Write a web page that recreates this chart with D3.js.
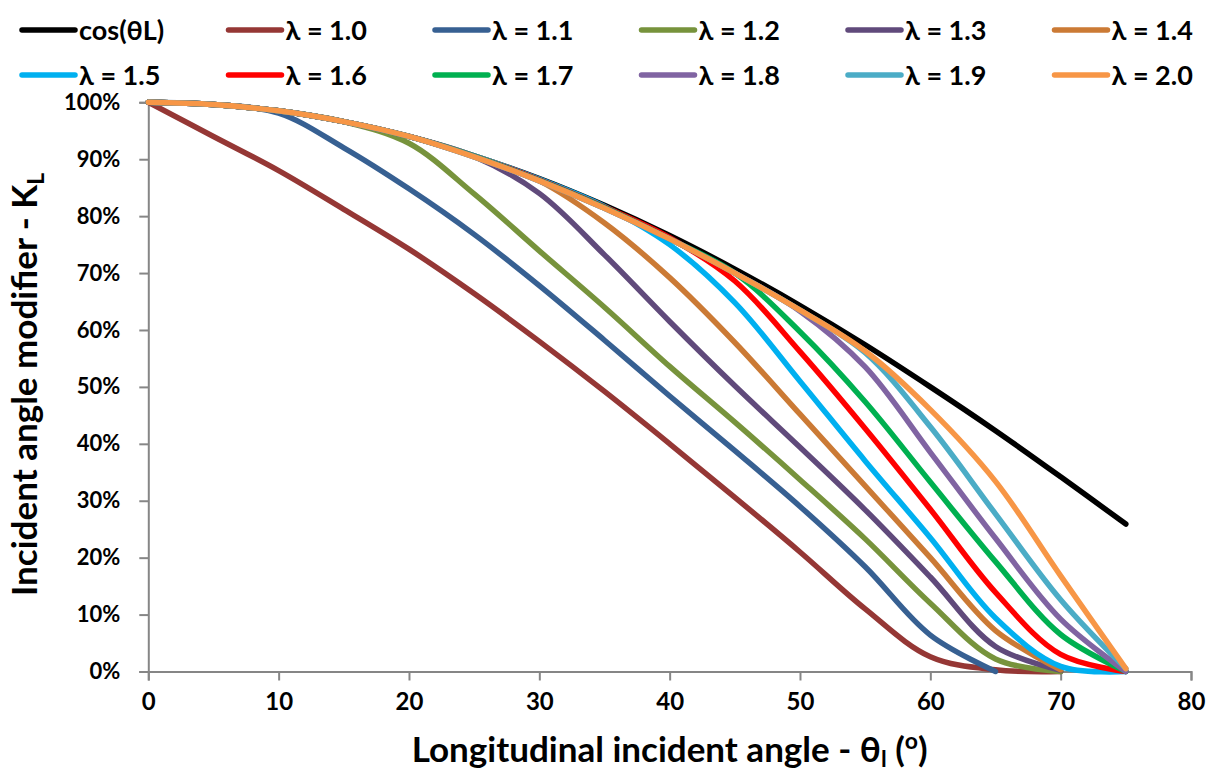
<!DOCTYPE html>
<html>
<head>
<meta charset="utf-8">
<script src="https://cdn.jsdelivr.net/npm/d3@7"></script>
<style>
  html, body { margin: 0; padding: 0; background: #fff; }
  svg { display: block; font-family: "Lato", "Open Sans", sans-serif; font-weight: 700; }
</style>
</head>
<body>
<svg id="chart" width="1221" height="772"></svg>
<script>
// Longitudinal incident angle (degrees) at which each curve is sampled
const theta = [0, 5, 10, 15, 20, 25, 30, 35, 40, 45, 50, 55, 60, 65, 70, 75];

// Reference curve cos(θL), as a fraction
const cosTheta = [1.000, 0.996, 0.985, 0.966, 0.940, 0.906, 0.866, 0.819, 0.766, 0.707, 0.643, 0.574, 0.500, 0.423, 0.342, 0.259];

// Incident angle modifier K_L (%) for each λ
const lam10 = [100, 94.0, 88.0, 81.2, 74.2, 66.4, 58.0, 49.2, 40.0, 30.6, 21.0, 11.0, 2.6, 0.3, 0];
const lam11 = [100, 99.6, 98.1, 92.0, 84.8, 76.8, 67.8, 58.2, 48.4, 38.8, 29.0, 18.4, 6.4, 0];
const lam12 = [100, 99.6, 98.5, 96.6, 92.8, 83.9, 73.9, 64.0, 53.6, 43.8, 33.7, 23.3, 12.0, 2.2, 0];
const lam13 = [100, 99.6, 98.5, 96.6, 94.0, 90.5, 84.0, 73.2, 61.5, 50.2, 39.4, 28.4, 16.6, 4.4, 0.2];
const lam14 = [100, 99.6, 98.5, 96.6, 94.0, 90.6, 86.2, 78.8, 69.2, 57.8, 45.2, 32.6, 20.0, 7.2, 0.3];
const lam15 = [100, 99.6, 98.5, 96.6, 94.0, 90.6, 86.5, 81.7, 75.0, 64.8, 51.0, 37.0, 23.5, 9.4, 0.9, 0];
const lam16 = [100, 99.6, 98.5, 96.6, 94.0, 90.5, 86.4, 81.6, 76.2, 68.6, 56.2, 42.7, 28.5, 13.9, 3.0, 0];
const lam17 = [100, 99.6, 98.5, 96.6, 94.0, 90.5, 86.3, 81.5, 76.0, 70.0, 59.7, 47.4, 33.3, 19.3, 6.5, 0];
const lam18 = [100, 99.6, 98.5, 96.6, 94.0, 90.4, 86.2, 81.4, 76.0, 70.0, 63.3, 53.5, 38.5, 23.4, 9.2, 0];
const lam19 = [100, 99.6, 98.5, 96.6, 94.0, 90.4, 86.2, 81.4, 76.0, 70.0, 63.5, 56.0, 43.0, 27.7, 12.6, 0.5];
const lam20 = [100, 99.6, 98.5, 96.6, 94.0, 90.4, 86.2, 81.4, 76.0, 70.0, 63.5, 56.3, 46.0, 33.4, 16.8, 0.5];

const seriesNames = ["cos(θL)", "λ = 1.0", "λ = 1.1", "λ = 1.2", "λ = 1.3", "λ = 1.4",
                     "λ = 1.5", "λ = 1.6", "λ = 1.7", "λ = 1.8", "λ = 1.9", "λ = 2.0"];
const seriesColors = ["#000000", "#953735", "#376092", "#77933C", "#604A7B", "#CB7A35",
                      "#00B0F0", "#FF0000", "#00B050", "#8064A2", "#4BACC6", "#F79646"];

const xTicks = [0, 10, 20, 30, 40, 50, 60, 70, 80];
const yTicks = [0, 10, 20, 30, 40, 50, 60, 70, 80, 90, 100];

// Assemble series: values in percent
const seriesValues = [cosTheta.map(v => v * 100), lam10, lam11, lam12, lam13, lam14,
                      lam15, lam16, lam17, lam18, lam19, lam20];
const series = seriesNames.map((name, i) => ({
  name,
  color: seriesColors[i],
  points: seriesValues[i].map((v, j) => ({ t: theta[j], v }))
}));

const svg = d3.select("#chart");
const plot = { left: 148.3, right: 1191, top: 102.3, bottom: 671.5 };

const x = d3.scaleLinear().domain([0, 80]).range([plot.left, plot.right]);
const y = d3.scaleLinear().domain([0, 100]).range([plot.bottom, plot.top]);

const axisColor = "#868686";

// Y axis
const yAxis = svg.append("g")
  .attr("transform", `translate(${plot.left},0)`)
  .call(d3.axisLeft(y).tickValues(yTicks).tickSize(9).tickPadding(19).tickFormat(d => d + "%"));
// X axis
const xAxis = svg.append("g")
  .attr("transform", `translate(0,${plot.bottom})`)
  .call(d3.axisBottom(x).tickValues(xTicks).tickSize(9).tickPadding(12).tickFormat(d3.format("d")));

[yAxis, xAxis].forEach(g => {
  g.select(".domain").attr("stroke", axisColor).attr("stroke-width", 2);
  g.selectAll(".tick line").attr("stroke", axisColor).attr("stroke-width", 2);
  g.selectAll(".tick text").attr("fill", "#000")
    .style("font-family", "Lato, 'Open Sans', sans-serif").style("font-weight", 700);
});
yAxis.selectAll(".tick text").style("font-size", "22px");
xAxis.selectAll(".tick text").style("font-size", "24px");

// Smoothed curves through the sampled points
const line = d3.line()
  .x(d => x(d.t))
  .y(d => y(d.v))
  .curve(d3.curveCatmullRom.alpha(0.5));

svg.append("g")
  .selectAll("path")
  .data(series)
  .join("path")
  .attr("d", d => line(d.points))
  .attr("fill", "none")
  .attr("stroke", d => d.color)
  .attr("stroke-width", 5.5)
  .attr("stroke-linecap", "round")
  .attr("stroke-linejoin", "round");

// Legend: two rows of six entries
const legendCols = [22, 228.5, 435, 641.5, 848, 1054.5];
const legendRows = [30, 75];
const legend = svg.append("g")
  .selectAll("g")
  .data(series)
  .join("g")
  .attr("transform", (d, i) => `translate(${legendCols[i % 6]},${legendRows[Math.floor(i / 6)]})`);
legend.append("line")
  .attr("x1", 0).attr("x2", 53)
  .attr("stroke", d => d.color)
  .attr("stroke-width", 5.5)
  .attr("stroke-linecap", "round");
legend.append("text")
  .attr("x", 57)
  .attr("dy", "0.36em")
  .style("font-size", "27px")
  .text(d => d.name);

// Axis titles
const xTitle = svg.append("text")
  .attr("x", (plot.left + plot.right) / 2)
  .attr("y", 762)
  .attr("text-anchor", "middle")
  .style("font-size", "35px");
xTitle.append("tspan").text("Longitudinal incident angle - θ");
xTitle.append("tspan").attr("dy", 5).style("font-size", "23px").text("l");
xTitle.append("tspan").attr("dy", -5).text(" (");
xTitle.append("tspan").attr("dy", -13).style("font-size", "23px").text("o");
xTitle.append("tspan").attr("dy", 13).text(")");

const yTitle = svg.append("text")
  .attr("transform", "translate(37,596) rotate(-90)")
  .attr("text-anchor", "start")
  .style("font-size", "35px");
yTitle.append("tspan").text("Incident angle modifier - K");
yTitle.append("tspan").attr("dy", 7).style("font-size", "23px").text("L");
</script>
</body>
</html>
